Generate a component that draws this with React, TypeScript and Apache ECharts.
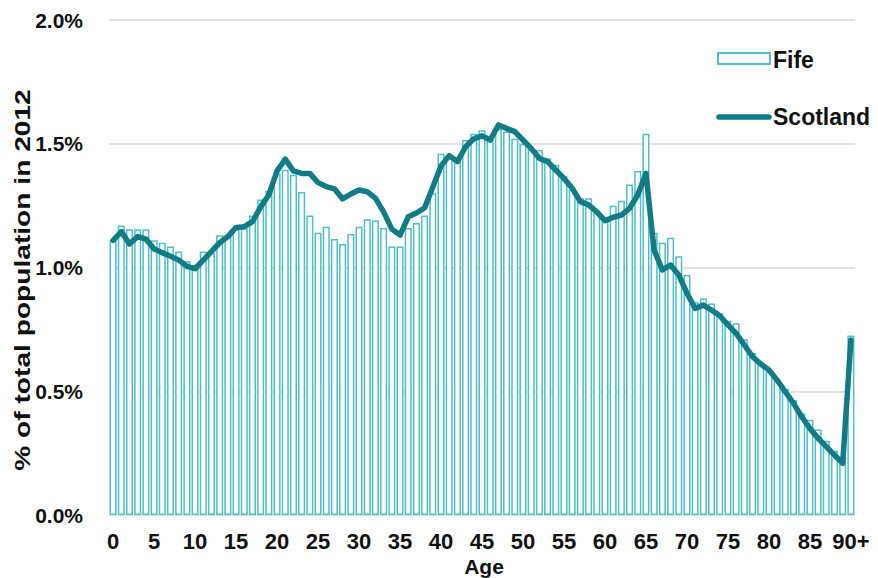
import React, { useEffect, useRef } from "react";
import * as echarts from "echarts";

const ages: string[] = Array.from({ length: 91 }, (_, i) => (i === 90 ? "90+" : String(i)));

const fife: number[] = [
  1.11, 1.17, 1.155, 1.155, 1.155, 1.11, 1.10, 1.085, 1.065, 1.025,
  0.995, 1.065, 1.06, 1.13, 1.125, 1.155, 1.16, 1.21, 1.275, 1.31,
  1.38, 1.395, 1.375, 1.305, 1.21, 1.14, 1.165, 1.115, 1.095, 1.135,
  1.165, 1.195, 1.19, 1.16, 1.085, 1.085, 1.16, 1.18, 1.21, 1.30,
  1.46, 1.45, 1.43, 1.515, 1.54, 1.555, 1.53, 1.56, 1.55, 1.52,
  1.50, 1.48, 1.475, 1.44, 1.415, 1.37, 1.315, 1.28, 1.28, 1.225,
  1.205, 1.25, 1.27, 1.335, 1.39, 1.54, 1.14, 1.10, 1.12, 1.045,
  0.97, 0.86, 0.875, 0.855, 0.815, 0.785, 0.775, 0.71, 0.655, 0.615,
  0.58, 0.545, 0.51, 0.465, 0.41, 0.385, 0.345, 0.30, 0.26, 0.235,
  0.725,
];

const scotland: number[] = [
  1.11, 1.145, 1.095, 1.125, 1.115, 1.075, 1.06, 1.045, 1.03, 1.005,
  0.995, 1.03, 1.065, 1.10, 1.125, 1.162, 1.165, 1.185, 1.245, 1.293,
  1.39, 1.438, 1.39, 1.38, 1.38, 1.343, 1.327, 1.318, 1.277, 1.297,
  1.313, 1.306, 1.28, 1.225, 1.155, 1.131, 1.205, 1.22, 1.241, 1.325,
  1.41, 1.452, 1.428, 1.488, 1.52, 1.532, 1.515, 1.576, 1.562, 1.549,
  1.515, 1.481, 1.441, 1.428, 1.394, 1.36, 1.32, 1.266, 1.253, 1.225,
  1.189, 1.203, 1.212, 1.239, 1.293, 1.38, 1.07, 0.99, 1.01, 0.97,
  0.896, 0.835, 0.848, 0.828, 0.805, 0.768, 0.734, 0.687, 0.64, 0.61,
  0.586, 0.545, 0.498, 0.451, 0.397, 0.35, 0.31, 0.276, 0.242, 0.209,
  0.707,
];

const FONT = "'Liberation Sans', Arial, sans-serif";
const BAR_COLOR = "#4FBFC6";
const LINE_COLOR = "#117B86";

export default function App() {
  const ref = useRef<HTMLDivElement>(null);
  useEffect(() => {
    if (!ref.current) return;
    const chart = echarts.init(ref.current, undefined, { renderer: "svg" });
    chart.setOption({
      animation: false,
      backgroundColor: "#fff",
      grid: { left: 109, right: 23, top: 20, bottom: 63, outerBoundsMode: "none", containLabel: false },
      xAxis: {
        type: "category",
        data: ages,
        axisLine: { show: false },
        axisTick: { show: false },
        axisLabel: {
          interval: 4,
          margin: 15,
          fontFamily: FONT,
          fontWeight: "bold",
          fontSize: 22,
          color: "#111",
        },
      },
      yAxis: {
        type: "value",
        min: 0,
        max: 2.0,
        interval: 0.5,
        axisLine: { show: false },
        axisTick: { show: false },
        splitLine: { lineStyle: { color: "#d9d9d9", width: 1.5 } },
        axisLabel: {
          margin: 26,
          fontFamily: FONT,
          fontWeight: "bold",
          fontSize: 21,
          color: "#111",
          formatter: (v: number) => v.toFixed(1) + "%",
        },
      },
      series: [
        {
          name: "Fife",
          type: "bar",
          data: fife,
          barCategoryGap: "14%",
          itemStyle: { color: "#fff", borderColor: BAR_COLOR, borderWidth: 1.5 },
          z: 2,
        },
        {
          name: "Scotland",
          type: "line",
          data: scotland,
          symbol: "none",
          lineStyle: { color: LINE_COLOR, width: 5.5, cap: "round", join: "round" },
          z: 3,
        },
      ],
      graphic: [
        {
          type: "text",
          x: 22,
          y: 280,
          rotation: Math.PI / 2,
          scaleX: 1.28,
          style: {
            text: "% of total population in 2012",
            font: `bold 22px ${FONT}`,
            fill: "#111",
            textAlign: "center",
            textVerticalAlign: "middle",
          },
        },
        {
          type: "text",
          x: 484,
          y: 566,
          style: {
            text: "Age",
            font: `bold 21px ${FONT}`,
            fill: "#111",
            textAlign: "center",
            textVerticalAlign: "middle",
          },
        },
        {
          type: "rect",
          shape: { x: 718, y: 53, width: 52, height: 11 },
          style: { fill: "#fff", stroke: BAR_COLOR, lineWidth: 2 },
        },
        {
          type: "text",
          x: 773,
          y: 60,
          style: {
            text: "Fife",
            font: `bold 23px ${FONT}`,
            fill: "#111",
            textVerticalAlign: "middle",
          },
        },
        {
          type: "line",
          shape: { x1: 719, y1: 117, x2: 769, y2: 117 },
          style: { stroke: LINE_COLOR, lineWidth: 5.5, lineCap: "round" },
        },
        {
          type: "text",
          x: 773,
          y: 117,
          style: {
            text: "Scotland",
            font: `bold 23px ${FONT}`,
            fill: "#111",
            textVerticalAlign: "middle",
          },
        },
      ],
    });
    return () => chart.dispose();
  }, []);
  return <div ref={ref} style={{ width: 878, height: 578, position: "absolute", left: 0, top: 0 }} />;
}
